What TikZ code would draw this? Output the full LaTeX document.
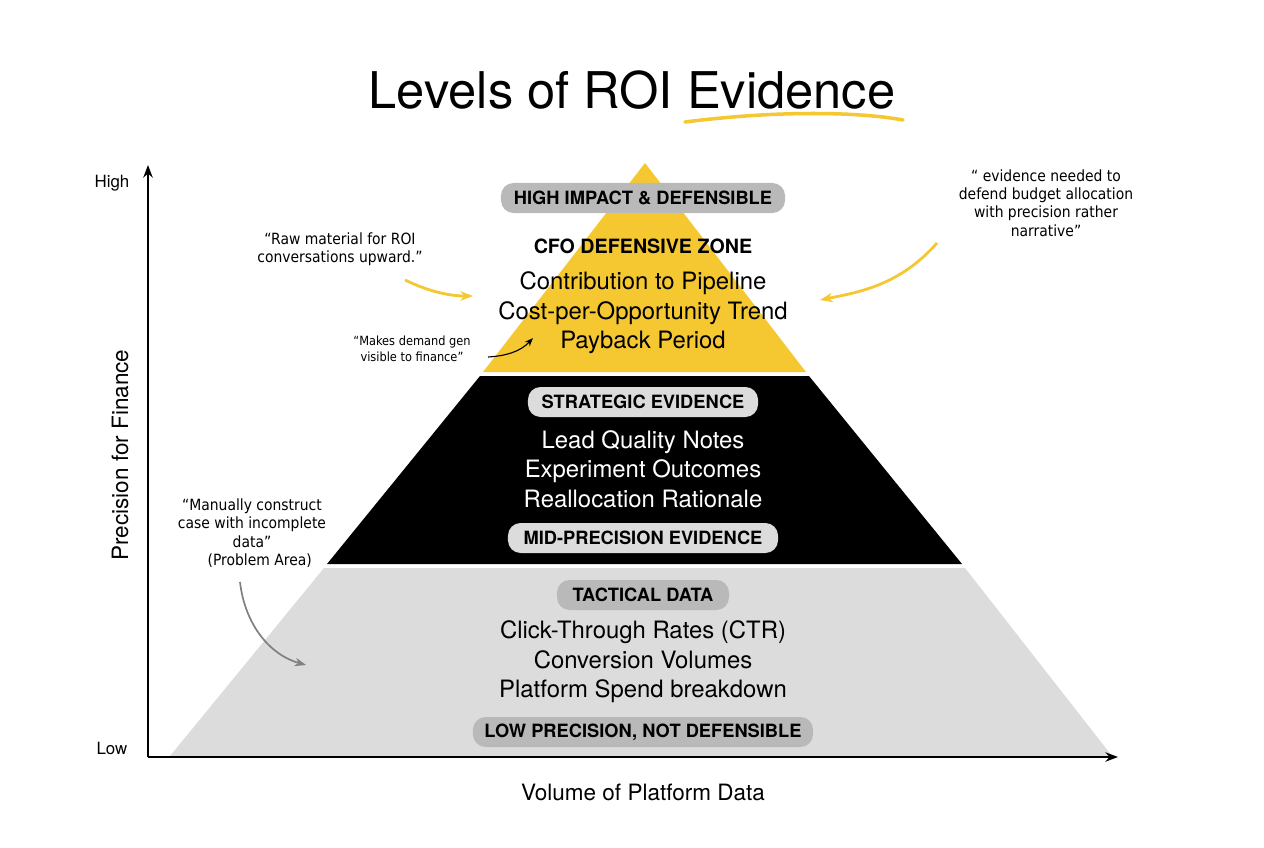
\documentclass[tikz,border=0pt]{standalone}
\usepackage{fontspec}
\setmainfont{TeX Gyre Heros}
\newfontfamily\hand{DejaVu Sans Condensed}
\usetikzlibrary{arrows.meta}
\definecolor{ylw}{HTML}{F5C832}
\definecolor{lgr}{HTML}{DCDCDC}
\begin{document}
\begin{tikzpicture}[x=0.025cm,y=-0.025cm,
  pill/.style={rounded corners=9pt,inner sep=0pt,minimum height=0.75cm,font=\fontsize{13}{13}\selectfont\bfseries},
  body/.style={align=center,font=\fontsize{17}{21}\selectfont},
  note/.style={align=center,font=\hand\fontsize{11}{13}\selectfont},
  ax/.style={line width=1.2pt,-{Stealth[length=9pt]}}]
\useasboundingbox (0,0) rectangle (1264,848);
\fill[white] (0,0) rectangle (1264,848);
% title
\node[font=\fontsize{36}{36}\selectfont] (title) at (632,90) {Levels of ROI Evidence};
\draw[ylw,line width=2.5pt,line cap=round] (685,122) .. controls (780,110) and (860,112) .. (903,120);
% pyramid
\fill[ylw] (645,163) -- (806,372) -- (483,372) -- cycle;
\fill[black] (480,376) -- (809,376) -- (962,564) -- (327,564) -- cycle;
\fill[lgr] (324,568) -- (965,568) -- (1112,756) -- (170,756) -- cycle;
% axes
\coordinate (o) at (148,757);
\coordinate (ytop) at (148,165);
\coordinate (xend) at (1118,757);
\draw[ax] (o) -- (ytop);
\draw[ax] (o) -- (xend);
\node[font=\fontsize{12}{12}\selectfont] (hi) at (112,183) {High};
\node[font=\fontsize{12}{12}\selectfont] (lo) at (112,748) {Low};
\node[font=\fontsize{16}{16}\selectfont,rotate=90] (yl) at (120,455) {Precision for Finance};
\node[font=\fontsize{16}{16}\selectfont] (xl) at (643,792) {Volume of Platform Data};
% top
\node[pill,fill=gray!55,minimum width=7.1cm] (p1) at (643,198) {HIGH IMPACT \& DEFENSIBLE};
\node[font=\fontsize{14}{14}\selectfont\bfseries] (cfo) at (643,246) {CFO DEFENSIVE ZONE};
\node[body] (t1) at (643,313) {Contribution to Pipeline\\Cost-per-Opportunity Trend\\Payback Period};
% middle
\node[pill,fill=lgr,minimum width=5.75cm] (p2) at (643,402) {STRATEGIC EVIDENCE};
\node[body,white] (t2) at (643,469) {Lead Quality Notes\\Experiment Outcomes\\Reallocation Rationale};
\node[pill,fill=lgr,minimum width=6.75cm] (p3) at (643,538) {MID-PRECISION EVIDENCE};
% bottom
\node[pill,fill=gray!55,minimum width=4.3cm] (p4) at (643,595) {TACTICAL DATA};
\node[body] (t3) at (643,662) {Click-Through Rates (CTR)\\Conversion Volumes\\Platform Spend breakdown};
\node[pill,fill=gray!55,minimum width=8.5cm] (p5) at (643,732) {LOW PRECISION, NOT DEFENSIBLE};
% notes
\node[note] (n1) at (340,249) {“Raw material for ROI\\conversations upward.”};
\node[note] (n2) at (1046,203) {“ evidence needed to\\defend budget allocation\\with precision rather\\narrative”};
\node[note,font=\hand\fontsize{9}{11}\selectfont] (n3) at (412,349) {“Makes demand gen\\visible to finance”};
\node[note] (n4) at (252,533) {“Manually construct\\case with incomplete\\data”\\\hspace*{1em}(Problem Area)};
\coordinate (a1) at (473,296);
\coordinate (a2) at (820,300);
\coordinate (a3) at (533,338);
\coordinate (a4) at (306,665);
\draw[ylw,line width=2pt,-{Stealth[length=9pt]}] (405,280) .. controls (430,292) and (450,296) .. (a1);
\draw[ylw,line width=2pt,-{Stealth[length=9pt]}] (937,243) .. controls (900,285) and (860,292) .. (a2);
\draw[black,line width=0.8pt,-{Stealth[length=6pt]}] (488,357) .. controls (505,356) and (520,352) .. (a3);
\draw[gray,line width=1.2pt,-{Stealth[length=8pt]}] (240,582) .. controls (245,625) and (270,655) .. (a4);
\end{tikzpicture}
\end{document}
